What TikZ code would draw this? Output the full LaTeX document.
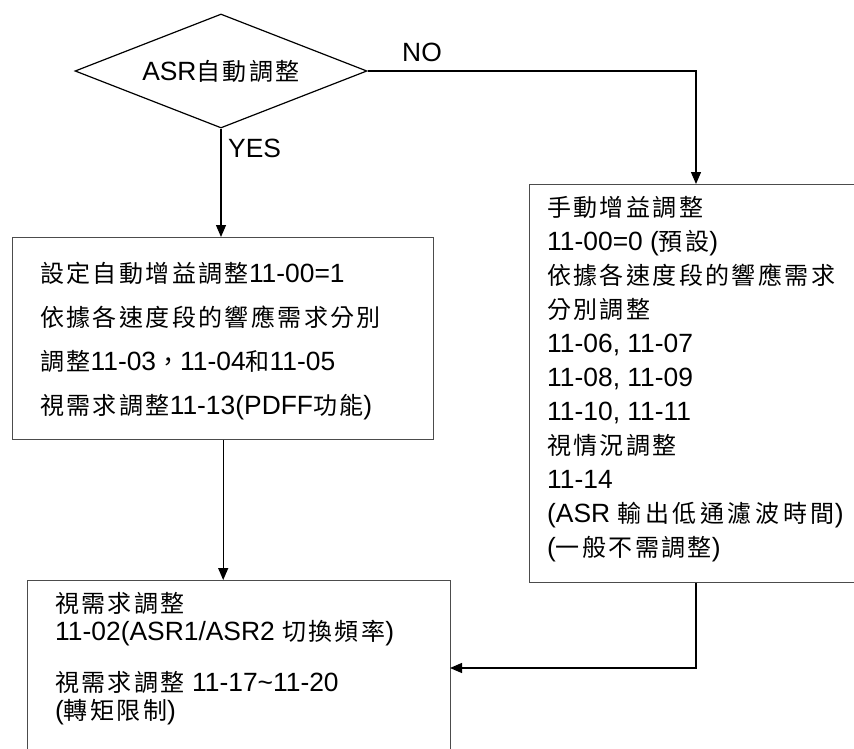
\documentclass[tikz,border=0pt]{standalone}
\usepackage{fontspec}
\setmainfont{Liberation Sans}[Scale=1.1]
\newfontfamily\zhfont[LetterSpace=10]{Noto Sans CJK TC}
\newfontfamily\zhwide[LetterSpace=15]{Noto Sans CJK TC}
\newcommand{\zh}[1]{{\zhfont #1}}
\usetikzlibrary{arrows.meta,positioning,shapes.geometric}

\begin{document}
\begin{tikzpicture}[x=1pt,y=-1pt,
  every node/.style={font=\fontsize{24}{28}\selectfont,inner sep=0pt},
  decision/.style={diamond,draw,line width=1.2pt,aspect=2.56,minimum width=292pt,minimum height=114pt},
  box/.style={draw=black!70,line width=1.4pt,anchor=north west},
  txt/.style={anchor=base west},
  flow/.style={line width=1.3pt,-{Triangle[width=10pt,length=12pt]}}]
\useasboundingbox (0,0) rectangle (854,749);
\clip (0,0) rectangle (854,749);
% decision and branch labels
\node[decision] (asr) at (221,71) {ASR\zh{自動調整}};
\node[anchor=west] (yes) at (228,148) {YES};
\node (no) at (422,52) {NO};
% boxes
\node[box,minimum width=421pt,minimum height=202pt] (auto) at (12,237) {};
\node[box,minimum width=400pt,minimum height=398pt] (manual) at (529,184) {};
\node[box,minimum width=423pt,minimum height=250pt] (final) at (27,580) {};
% automatic tuning
\node[txt] (a1) at (40,282) {\zh{設定自動增益調整}11-00=1};
\node[txt] (a2) at (40,326) {\zh{依據各速度段的響應需求分別}};
\node[txt] (a3) at (40,370) {\zh{調整}11-03\zh{，}11-04\zh{和}11-05};
\node[txt] (a4) at (40,414) {\zh{視需求調整}11-13(PDFF\zh{功能})};
% manual tuning
\node[txt] (m1) at (547,216) {\zh{手動增益調整}};
\node[txt] (m2) at (547,250) {11-00=0 (\zh{預設})};
\node[txt] (m3) at (547,284) {\zh{依據各速度段的響應需求}};
\node[txt] (m4) at (547,318) {\zh{分別調整}};
\node[txt] (m5) at (547,352) {11-06, 11-07};
\node[txt] (m6) at (547,386) {11-08, 11-09};
\node[txt] (m7) at (547,420) {11-10, 11-11};
\node[txt] (m8) at (547,454) {\zh{視情況調整}};
\node[txt] (m9) at (547,488) {11-14};
\node[txt] (m10) at (547,522) {(ASR {\zhwide 輸出低通濾波時間})};
\node[txt] (m11) at (547,556) {(\zh{一般不需調整})};
% common settings
\node[txt] (f1) at (55,612) {\zh{視需求調整}};
\node[txt] (f2) at (55,640) {11-02(ASR1/ASR2 \zh{切換頻率})};
\node[txt] (f3) at (55,691) {\zh{視需求調整} 11-17\textasciitilde11-20};
\node[txt] (f4) at (55,719) {(\zh{轉矩限制})};
% connectors
\coordinate (noin) at (696,184);
\coordinate (finin) at (450,668);
\draw[flow] (asr.east) -| (noin);
\draw[flow] (asr.south) -- (asr.south |- auto.north);
\draw[flow] (auto.south) -- (auto.south |- final.north);
\draw[flow] (noin |- manual.south) |- (finin);
\end{tikzpicture}
\end{document}
